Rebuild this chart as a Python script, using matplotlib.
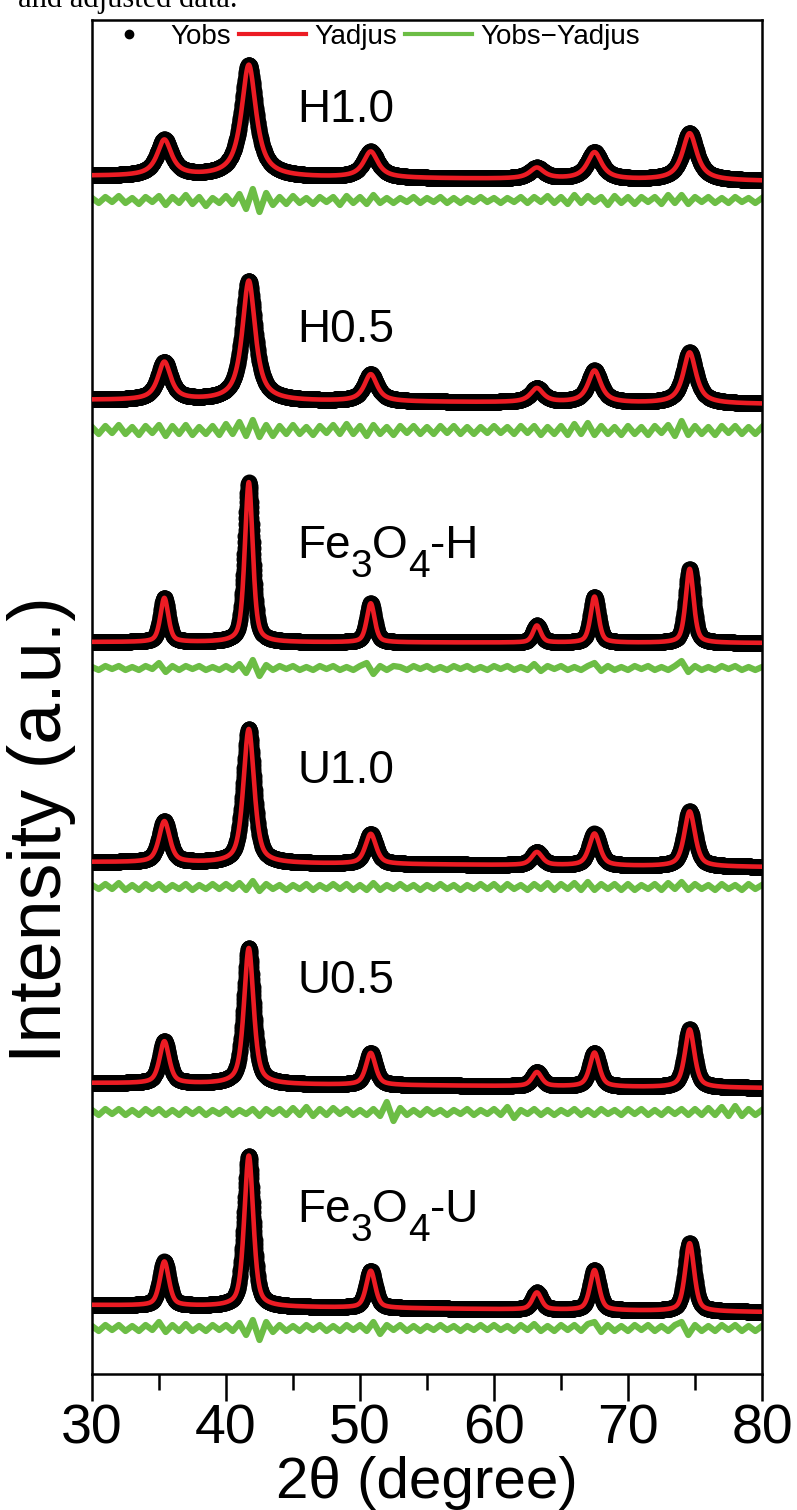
#
# Rietveld refinement plot: observed, adjusted and difference patterns
#

import numpy as np
import matplotlib.pyplot as plt
from matplotlib.lines import Line2D

plt.rcParams['font.family'] = ['Liberation Sans', 'DejaVu Sans']

# Sample names (top to bottom), "_" marks a subscript digit
samples = ["H1.0", "H0.5", "Fe_3O_4-H", "U1.0", "U0.5", "Fe_3O_4-U"]

# Reflection positions (2 theta) of the spinel phase
peak_pos = [35.4, 41.7, 50.8, 63.2, 67.5, 74.6]

# Fitted peak heights (a.u., stacked plot units) per sample
peak_h10 = [36, 112, 26, 11, 27, 47]
peak_h05 = [38, 120, 27, 14, 32, 51]
peak_feh = [44, 160, 39, 17, 46, 74]
peak_u10 = [41, 134, 30, 13, 32, 55]
peak_u05 = [42, 136, 32, 14, 34, 58]
peak_feu = [44, 151, 37, 17, 40, 68]

# Peak widths (FWHM, degree) and Lorentzian fraction
fwhm = [1.3, 1.15, 0.7, 0.95, 0.85, 0.8]
eta = [0.9, 0.85, 0.5, 0.6, 0.6, 0.5]

# Linear background at 30 and 80 degree (stacked units)
bg_left = [1198, 974, 732, 512, 291, 69]
bg_right = [1193, 970, 731, 507, 286, 62]

# Zero level of each difference curve
res_zero = [1174, 944, 706, 487, 262, 46]

# Yobs - Yadjus, read every 0.5 degree from 30 to 80
res_h10 = [2, -3, 3, -2, 4, -3, 2, -4, 3, -2,
           4, -5, 3, -3, 5, -4, 3, -6, 2, -3,
           4, -4, 6, -9, 11, -12, 7, -5, 3, -4,
           4, -3, 2, -4, 3, -2, 3, -5, 4, -3,
           3, -4, 5, -3, 2, -3, 2, -2, 3, -3,
           2, -2, 3, -3, 2, -3, 2, -2, 3, -2,
           2, -3, 2, -2, 3, -3, 3, -2, 4, -3,
           3, -4, 5, -3, 4, -2, 3, -5, 4, -3,
           3, -4, 3, -2, 3, -4, 5, -3, 5, -4,
           3, -2, 3, -3, 2, -3, 3, -2, 2, -3,
           2]
res_h05 = [3, -4, 4, -3, 5, -4, 3, -5, 4, -3,
           5, -6, 4, -4, 5, -5, 3, -4, 4, -5,
           6, -4, 8, -6, 10, -7, 5, -6, 4, -4,
           5, -4, 3, -5, 4, -3, 5, -4, 6, -4,
           4, -6, 5, -4, 3, -5, 4, -3, 4, -4,
           3, -4, 4, -3, 4, -4, 3, -4, 3, -3,
           4, -3, 3, -4, 4, -3, 4, -5, 3, -4,
           4, -5, 6, -4, 7, -5, 4, -4, 3, -5,
           4, -4, 3, -5, 4, -3, 5, -6, 9, -5,
           4, -4, 3, -5, 4, -3, 4, -4, 3, -4,
           3]
res_feh = [1, -2, 2, -1, 2, -2, 1, -2, 2, -1,
           5, -4, 2, -2, 2, -1, 2, -2, 1, -2,
           2, -2, 4, -5, 8, -8, 3, -2, 2, -1,
           2, -2, 1, -2, 2, -1, 2, -2, 1, -2,
           2, 5, -6, 2, -2, 2, 1, -2, 2, -1,
           2, -2, 1, -2, 2, -1, 2, -2, 1, -2,
           2, -1, 2, -2, 1, -2, 4, -3, 2, -1,
           2, -2, 1, -2, 2, 5, -3, 2, -2, 1,
           -2, 2, -1, 2, -2, 1, -2, 2, 7, -4,
           2, -2, 1, -2, 2, -1, 2, -2, 1, -2,
           1]
res_u10 = [2, -2, 3, -2, 4, -3, 2, -3, 3, -2,
           3, -3, 2, -2, 3, -3, 2, -2, 3, -2,
           3, -2, 4, -3, 6, -4, 3, -2, 2, -3,
           2, -2, 3, -3, 2, -2, 3, -2, 3, -3,
           2, -3, 4, -3, 2, -2, 3, -2, 2, -3,
           2, -2, 3, -2, 2, -3, 2, -2, 3, -2,
           3, -3, 3, -2, 2, -3, 3, -2, 4, -3,
           3, -2, 4, -3, 5, -3, 3, -2, 3, -3,
           3, -3, 2, -2, 3, -3, 4, -2, 5, -3,
           3, -2, 2, -3, 3, -2, 2, -3, 3, -2,
           2]
res_u05 = [2, -3, 3, -2, 3, -3, 2, -3, 3, -2,
           3, -3, 2, -3, 3, -2, 3, -3, 2, -2,
           3, -3, 2, -2, 3, -4, 3, -2, 3, -3,
           4, -3, 5, -4, 3, -3, 4, -2, 3, -3,
           2, -3, 3, -4, 10, -9, 4, -3, 2, -3,
           3, -2, 2, -3, 2, -2, 3, -3, 2, -2,
           3, -3, 5, -6, 2, -2, 3, -3, 2, -3,
           2, -2, 3, -3, 2, -3, 3, -2, 2, -3,
           3, -2, 3, -3, 2, -3, 3, -2, 3, -3,
           3, -3, 4, -3, 5, -4, 6, -4, 3, -3,
           2]
res_feu = [2, -3, 3, -2, 3, -3, 2, -3, 3, -2,
           6, -4, 3, -3, 4, -3, 2, -3, 3, -2,
           3, -3, 5, -7, 8, -12, 6, -4, 3, -3,
           2, -3, 3, -2, 3, -3, 2, -3, 3, -2,
           3, -3, 6, -6, 3, -2, 3, -3, 2, -3,
           2, -2, 3, -2, 2, -3, 2, -2, 3, -2,
           3, -2, 2, -3, 3, -2, 4, -3, 2, -3,
           3, -2, 3, -3, 4, 6, -4, 3, -3, 2,
           -3, 3, -2, 3, -3, 2, -3, 3, 6, -7,
           3, -3, 2, -3, 3, -2, 3, -3, 2, -3,
           2]

peaks = [peak_h10, peak_h05, peak_feh, peak_u10, peak_u05, peak_feu]
residuals = [res_h10, res_h05, res_feh, res_u10, res_u05, res_feu]

# label anchor (baseline) for each pattern
label_y = [1252, 1032, 816, 591, 381, 152]

red = "#ec1c24"
green = "#6cbd45"


def pseudo_voigt(x, pos, amp, w, frac):
    lor = 1.0 / (1.0 + ((x - pos) / (w / 2.0)) ** 2)
    gau = np.exp(-4.0 * np.log(2.0) * ((x - pos) / w) ** 2)
    return amp * (frac * lor + (1.0 - frac) * gau)


def draw_label(ax, xpos, ypos, name):
    # split "Fe_3O_4-H" into normal and subscript pieces
    chunks = name.split("_")
    parts = [(chunks[0], False)]
    for c in chunks[1:]:
        parts.append((c[0], True))
        if c[1:]:
            parts.append((c[1:], False))
    base = ax.text(xpos, ypos, parts[0][0], fontsize=33, va="baseline",
                   ha="left")
    prev = base
    for s, is_sub in parts[1:]:
        if is_sub:
            prev = ax.annotate(s, xy=(1, 0), xycoords=(prev, base),
                               xytext=(0, -12), textcoords="offset points",
                               fontsize=28, va="bottom", ha="left")
        else:
            prev = ax.annotate(s, xy=(1, 0), xycoords=(prev, base),
                               fontsize=33, va="bottom", ha="left")


x = np.arange(30, 80.0001, 0.02)
x_res = np.arange(30, 80.0001, 0.5)

fig = plt.figure(figsize=(7.97, 15.10), dpi=100)
ax = fig.add_axes([92 / 797, 136 / 1510, 670 / 797, 1354 / 1510])

for i in range(len(samples)):
    y_adj = bg_left[i] + (bg_right[i] - bg_left[i]) * (x - 30) / 50.0
    for p, h in zip(peak_pos, peaks[i]):
        y_adj = y_adj + pseudo_voigt(x, p, h, fwhm[i], eta[i])
    # observed points
    ax.plot(x, y_adj, ls="none", marker="o", ms=10.5, mfc="black", mec="black",
            zorder=2)
    # adjusted curve
    ax.plot(x, y_adj, color=red, lw=3.3, zorder=3)
    # difference
    ax.plot(x_res, res_zero[i] + np.array(residuals[i]), color=green, lw=4.5,
            zorder=2)
    draw_label(ax, 45.3, label_y[i], samples[i])

ax.set_xlim(30, 80)
ax.set_ylim(0, 1354)
ax.set_xticks([30, 40, 50, 60, 70, 80])
ax.set_xticks([35, 45, 55, 65, 75], minor=True)
ax.set_yticks([])
ax.tick_params(axis="x", which="major", direction="out", length=19.5,
               width=1.8, labelsize=40, pad=2)
ax.tick_params(axis="x", which="minor", direction="out", length=11.5,
               width=1.8)
for s in ax.spines.values():
    s.set_linewidth(1.8)

ax.set_xlabel("2θ (degree)", fontsize=42, labelpad=0)
fig.text(42 / 797, 1 - 830 / 1510, "Intensity (a.u.)", rotation=90,
         fontsize=53, ha="center", va="center")

# legend
h_obs = Line2D([], [], ls="none", marker="o", ms=6, color="black")
h_adj = Line2D([], [], color=red, lw=3)
h_dif = Line2D([], [], color=green, lw=3)
ax.legend([h_obs, h_adj, h_dif], ["Yobs", "Yadjus", "Yobs\u2212Yadjus"],
          ncol=3, loc="center left", bbox_to_anchor=(0.005, 1 - 17 / 1354),
          frameon=False, fontsize=20, handlelength=2.4, handletextpad=0.3,
          columnspacing=0.3, borderpad=0, borderaxespad=0)

# cut caption line from the page above the figure
fig.text(18 / 797, 1 - 7 / 1510, "and adjusted data.",
         family="Liberation Serif", fontsize=22, va="baseline")

plt.savefig("out.png", dpi=100)
